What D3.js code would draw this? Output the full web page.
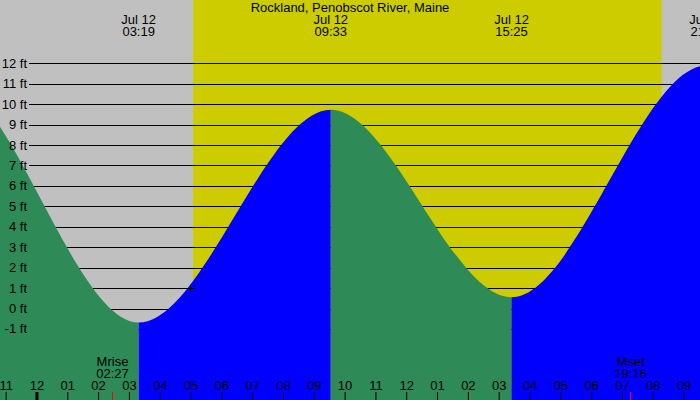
<!DOCTYPE html>
<html>
<head>
<meta charset="utf-8">
<script src="https://cdn.jsdelivr.net/npm/d3@7"></script>
<style>
  body { margin: 0; background: #fff; }
  text { font-family: "Liberation Sans", Arial, sans-serif; font-size: 13px; fill: #000; }
</style>
</head>
<body>
<div id="mainGraphic"></div>
<script>
let svgWidth = 700
let svgHeight = 400

let title = "Rockland, Penobscot River, Maine"

// tide turning points (off-screen ones only shape the curve ends)
let tideTimes = ["2024-07-11T14:50", "2024-07-11T21:00", "2024-07-12T03:19", "2024-07-12T09:33", "2024-07-12T15:25", "2024-07-12T21:45", "2024-07-13T04:05"]
let tideLevels = [0.3, 11.3, -0.69, 9.73, 0.55, 11.9, -0.8]

let levelTicks = [-1, 0, 1, 2, 3, 4, 5, 6, 7, 8, 9, 10, 11, 12]

let sunTimes = ["2024-07-12T05:05", "2024-07-12T20:17"]   // sunrise, sunset
let moonEvents = [
  {name: "Mrise", time: "2024-07-12T02:27"},
  {name: "Mset", time: "2024-07-12T19:16"}
]
let markerPoint = {time: "2024-07-12T04:59", level: 1}

let viewStart = "2024-07-11T22:49"
let viewEnd = "2024-07-12T21:32"

renderTides();

function renderTides(){
  let parse = d3.isoParse
  let fmtHM = d3.timeFormat("%H:%M")
  let fmtDay = d3.timeFormat("%b %d")

  let graphic = d3.select("#mainGraphic")
    .append("svg")
      .attr("width", svgWidth)
      .attr("height", svgHeight)

  let x = d3.scaleTime()
    .domain([parse(viewStart), parse(viewEnd)])
    .range([0, svgWidth])
  let y = d3.scaleLinear()
    .domain([0, 12])
    .range([308.5, 63.3])

  let tides = tideTimes.map((t, i) => ({time: parse(t), level: tideLevels[i]}))

  // night / day background
  let sunrise = parse(sunTimes[0]), sunset = parse(sunTimes[1])
  graphic.append("rect")
    .attr("width", svgWidth).attr("height", svgHeight)
    .attr("fill", "#c0c0c0")
  graphic.append("rect")
    .attr("x", x(sunrise)).attr("y", 0)
    .attr("width", x(sunset) - x(sunrise)).attr("height", svgHeight)
    .attr("fill", "#cccc00")

  // level lines
  graphic.append("g")
    .selectAll("line")
    .data(levelTicks)
    .enter()
    .append("line")
      .attr("x1", 29).attr("x2", svgWidth)
      .attr("y1", d => Math.round(y(d)) + 0.5)
      .attr("y2", d => Math.round(y(d)) + 0.5)
      .attr("stroke", "#000")

  // tide area, green while falling, blue while rising
  let area = d3.area()
    .x(d => x(d.time))
    .y0(svgHeight)
    .y1(d => y(d.level))
    .curve(d3.curveMonotoneX)

  let defs = graphic.append("defs")
  tides.slice(1).forEach(function(d, i){
    let prev = tides[i]
    defs.append("clipPath")
      .attr("id", "seg" + i)
      .append("rect")
        .attr("x", x(prev.time)).attr("y", 0)
        .attr("width", x(d.time) - x(prev.time)).attr("height", svgHeight)
    graphic.append("path")
      .datum(tides)
      .attr("d", area)
      .attr("clip-path", "url(#seg" + i + ")")
      .attr("fill", d.level > prev.level ? "#0000ff" : "#2e8b57")
  })

  // level labels
  graphic.append("g")
    .selectAll("text")
    .data(levelTicks)
    .enter()
    .append("text")
      .attr("x", 27)
      .attr("y", d => y(d) + 4.5)
      .attr("text-anchor", "end")
      .text(d => d + " ft")

  // small cross marker
  let mx = Math.round(x(parse(markerPoint.time))) + 0.5
  let my = Math.round(y(markerPoint.level)) + 0.5
  graphic.append("path")
    .attr("d", `M${mx - 4},${my}H${mx + 4}M${mx},${my - 4}V${my + 4}`)
    .attr("stroke", "#000")

  // title and tide time labels
  graphic.append("text")
    .attr("x", svgWidth / 2).attr("y", 12)
    .attr("text-anchor", "middle")
    .text(title)
  let tideLabels = graphic.append("g")
    .selectAll("g")
    .data(tides.filter(d => x(d.time) > -20 && x(d.time) < svgWidth + 20))
    .enter()
    .append("g")
      .attr("transform", d => "translate(" + x(d.time) + ",0)")
  tideLabels.append("text")
    .attr("y", 24).attr("text-anchor", "middle")
    .text(d => fmtDay(d.time).replace(/ 0/, " "))
  tideLabels.append("text")
    .attr("y", 36).attr("text-anchor", "middle")
    .text(d => fmtHM(d.time))

  // hour axis along the bottom
  let hourAxis = d3.axisTop(x)
    .ticks(d3.timeHour.every(1))
    .tickFormat(d3.timeFormat("%I"))
    .tickSize(8)
    .tickPadding(2)
  let axisG = graphic.append("g")
    .attr("transform", "translate(0," + svgHeight + ")")
    .call(hourAxis)
  axisG.select(".domain").remove()
  axisG.selectAll("text")
    .style("font-family", "'Liberation Sans', Arial, sans-serif")
    .style("font-size", "13px")
    .attr("fill", "#000")
  axisG.selectAll("line").attr("stroke", "#000")
  axisG.selectAll(".tick")
    .filter(d => d.getHours() == 0)
    .select("line")
      .attr("stroke-width", 3)

  // moon rise / set
  let moon = graphic.append("g")
    .selectAll("g")
    .data(moonEvents)
    .enter()
    .append("g")
      .attr("transform", d => "translate(" + (Math.round(x(parse(d.time))) + 0.5) + ",0)")
  moon.append("line")
    .attr("y1", 392).attr("y2", svgHeight)
    .attr("stroke", "#ff0000")
  moon.append("text")
    .attr("y", 366).attr("text-anchor", "middle")
    .text(d => d.name)
  moon.append("text")
    .attr("y", 378).attr("text-anchor", "middle")
    .text(d => fmtHM(parse(d.time)))
}
</script>
</body>
</html>
